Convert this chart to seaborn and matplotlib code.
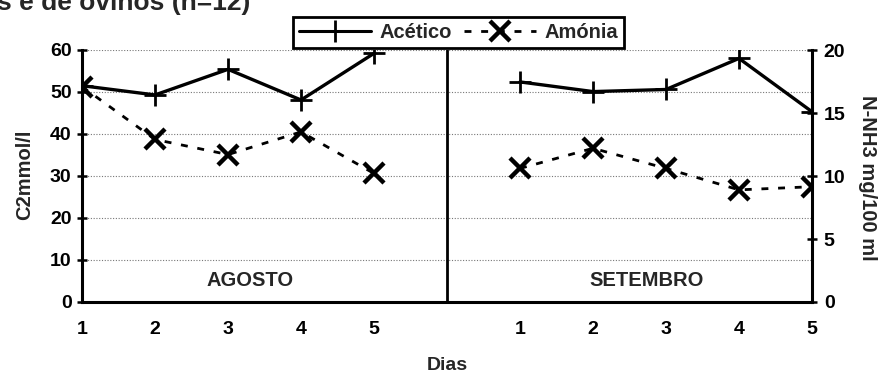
import matplotlib
matplotlib.use("Agg")
import matplotlib.pyplot as plt
from matplotlib.lines import Line2D
import seaborn as sns
import pandas as pd

# Sampling days and months
dias = ["1", "2", "3", "4", "5"]
meses = ["AGOSTO", "SETEMBRO"]

# Acetic acid (C2, mmol/l) – left axis
acetico_agosto = [51.5, 49.3, 55.4, 48.1, 59.2]
acetico_setembro = [52.4, 50.1, 50.6, 58.0, 45.3]

# Ammonia nitrogen (N-NH3, mg/100 ml) – right axis
amonia_agosto = [17.1, 12.9, 11.7, 13.5, 10.2]
amonia_setembro = [10.6, 12.2, 10.6, 8.9, 9.15]

left_ticks = [0, 10, 20, 30, 40, 50, 60]
right_ticks = [0, 5, 10, 15, 20]

sns.set_style("white")
plt.rcParams["font.family"] = ["Liberation Sans", "DejaVu Sans"]
plt.rcParams["font.weight"] = "bold"

# x positions: five days per month, one empty slot between months
n = len(dias)
pos_agosto = list(range(n))
pos_setembro = [n + 1 + i for i in range(n)]

rows = []
for mes, pos, ac, am in [(meses[0], pos_agosto, acetico_agosto, amonia_agosto),
                         (meses[1], pos_setembro, acetico_setembro, amonia_setembro)]:
    for p, a, b in zip(pos, ac, am):
        rows.append({"mes": mes, "pos": p, "acetico": a, "amonia": b})
df = pd.DataFrame(rows)

fig = plt.figure(figsize=(8.84, 3.75), dpi=100)
ax = fig.add_axes([82 / 884, 1 - 302 / 375, 730 / 884, 252 / 375])
ax2 = ax.twinx()

dash = (0, (2.5, 3.5))
for mes in meses:
    sub = df[df["mes"] == mes]
    sns.lineplot(data=sub, x="pos", y="acetico", ax=ax, color="black",
                 linewidth=2.4, marker="+", markersize=16, markeredgewidth=2.0,
                 markeredgecolor="black", estimator=None, sort=False)
    sns.lineplot(data=sub, x="pos", y="amonia", ax=ax2, color="black",
                 linewidth=2.0, linestyle=dash, marker="x",
                 markersize=15, markeredgewidth=3.2, markeredgecolor="black",
                 estimator=None, sort=False)

# month divider
ax.axvline(n, color="black", linewidth=2.0, zorder=3)

ax.set_xlim(0, 2 * n)
ax.set_ylim(0, 60)
ax2.set_ylim(0, 20)
ax.set_yticks(left_ticks)
ax2.set_yticks(right_ticks)
ax.set_xticks(pos_agosto + pos_setembro)
ax.set_xticklabels(dias + dias)

ax.yaxis.grid(True, linestyle=(0, (1, 1.5)), color="#777777", linewidth=0.8)
ax.set_axisbelow(True)

for a in (ax, ax2):
    for s in a.spines.values():
        s.set_visible(False)
    a.set_xlabel("")
    a.set_ylabel("")
ax.spines["left"].set_visible(True)
ax.spines["bottom"].set_visible(True)
ax2.spines["right"].set_visible(True)
for s in (ax.spines["left"], ax.spines["bottom"], ax2.spines["right"]):
    s.set_linewidth(2.2)
    s.set_color("black")

ax.tick_params(axis="y", direction="inout", length=7, width=1.8,
               labelsize=14, pad=4, colors="black", left=True)
ax.tick_params(axis="x", length=0, labelsize=14, pad=14, colors="black")
ax2.tick_params(axis="y", direction="inout", length=7, width=1.8,
                labelsize=14, pad=5, colors="black", right=True)
for lab in ax.get_yticklabels() + ax.get_xticklabels() + ax2.get_yticklabels():
    lab.set_fontweight("bold")

ax.text(2.3, 5, meses[0], ha="center", va="center", fontsize=14.5, fontweight="bold")
ax.text(7.74, 5, meses[1], ha="center", va="center", fontsize=14.5, fontweight="bold")

fig.text(25 / 884, 1 - 175 / 375, "C2mmol/l", rotation=90, ha="center",
         va="center", fontsize=14.5, fontweight="bold")
fig.text(868 / 884, 1 - 178 / 375, "N-NH3 mg/100 ml", rotation=270, ha="center",
         va="center", fontsize=14.5, fontweight="bold")
fig.text(447 / 884, 1 - 365 / 375, "Dias", ha="center", va="center",
         fontsize=14, fontweight="bold")
fig.text(-3 / 884, 1 - 10 / 375, "s e de ovinos (n=12)", ha="left",
         va="baseline", fontsize=19, fontweight="bold")

handles = [
    Line2D([], [], color="black", linewidth=2.2, marker="+", markersize=16,
           markeredgewidth=2.0),
    Line2D([], [], color="black", linewidth=2.0, linestyle=dash,
           marker="x", markersize=15, markeredgewidth=3.2),
]
leg = fig.legend(handles, ["Acético", "Amónia"], ncol=2, loc="center",
                 bbox_to_anchor=(458.5 / 884, 1 - 32.5 / 375),
                 frameon=True, fancybox=False, framealpha=1,
                 edgecolor="black", handlelength=3.6, handletextpad=0.4,
                 columnspacing=0.6, borderpad=0.3,
                 prop={"size": 14.5, "weight": "bold"})
leg.get_frame().set_linewidth(2.0)

fig.savefig("out.png", dpi=100)
